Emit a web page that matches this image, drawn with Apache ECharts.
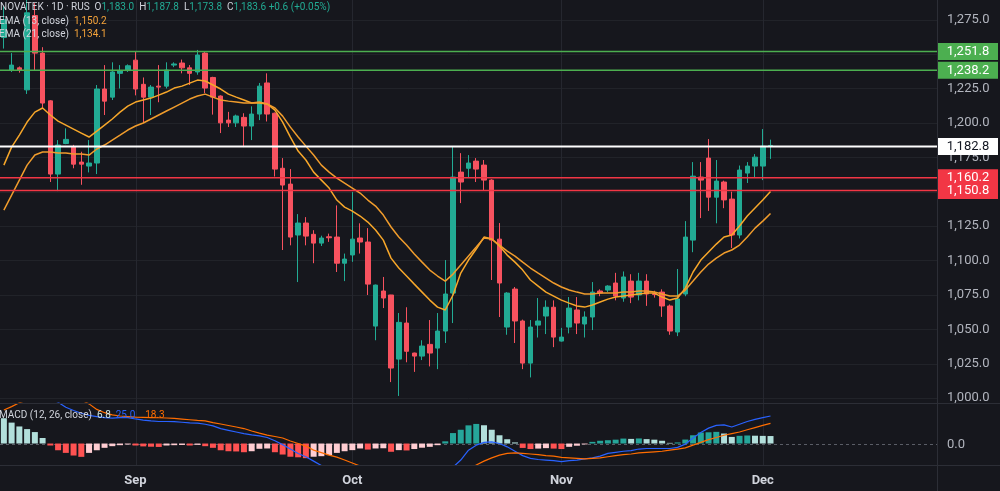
<!DOCTYPE html>
<html><head><meta charset="utf-8">
<script src="https://cdn.jsdelivr.net/npm/echarts@6/dist/echarts.min.js"></script>
<style>html,body{margin:0;padding:0;background:#16171d;}#c{width:1000px;height:491px;}</style>
</head><body><div id="c"></div>
<script>
// ---------------- DATA ----------------
const symbolTitle = 'NOVATEK · 1D · RUS';
const opens  = [1262,1238.4,1240,1224,1278,1250.7,1216,1162.8,1185,1182.4,
  1171.5,1168.6,1170.8,1224.6,1218.7,1236,1238,1245.6,1228,1218.7,
  1226.7,1226.7,1242,1243.5,1240,1237,1250.7,1233,1219.5,1202,
  1200,1204,1197.7,1206.4,1229,1207,1167,1155.5,1118.5,1127.2,
  1119,1112.6,1117.2,1117,1098,1104,1116.3,1113.4,1052.3,1077.8,
  1074.9,1028.3,1054.5,1032.7,1030.5,1039,1036.3,1048.7,1076.3,1164.2,
  1167,1172.2,1169.3,1158.4,1115.5,1051.6,1079.2,1056,1025.4,1053,
  1059.6,1066,1041.4,1051.6,1064,1053.8,1058.9,1077.8,1078.5,1083.6,
  1072.7,1085,1074.9,1085,1076,1077,1066.9,1048,1075.6,1114.8,
  1160.6,1174.4,1146,1157,1144.6,1118.5,1163.5,1168.6,1168.6,1183.0];
const closes = [1275,1242,1238.4,1280,1250.7,1214.4,1162.8,1183.9,1188,1170,
  1170,1170.8,1224.6,1215.8,1237,1238,1241.5,1224.6,1218.7,1226,
  1226,1238.4,1242.8,1240,1236,1249.3,1225.3,1218.7,1200,1200,
  1205,1197.7,1206.4,1226.7,1206.4,1166.4,1154.8,1117,1127.2,1117.7,
  1112.6,1116.3,1116.5,1098,1101,1115.5,1113.4,1082.8,1082.1,1072.7,
  1021.8,1055,1034,1030.5,1037.8,1032.7,1048.7,1075.6,1160.6,1157,
  1170.8,1166.4,1158.4,1114.8,1083.6,1076.3,1056,1025.4,1051.6,1056,
  1066,1044.3,1044.3,1065.4,1054.5,1058.9,1077,1076.3,1081.4,1074.1,
  1088,1073.4,1085,1075.6,1075.2,1066.9,1048.7,1072,1117,1161.3,
  1158.4,1146,1157.7,1144,1118.5,1165.7,1168.6,1175.1,1183.0,1183.6];
const lows   = [1254,1237,1236.5,1221,1238,1210.8,1157,1150.4,1184.5,1167,
  1155,1164,1162.8,1205.7,1216.6,1225,1237,1220,1200,1205.7,
  1215,1225,1240.5,1236,1227.5,1235,1221.6,1206,1192.6,1197,
  1197,1182.4,1187.5,1202,1201,1161,1107.6,1111,1084.3,1111,
  1098,1110.5,1113.5,1091.6,1085,1099,1105,1074.9,1042,1065.4,
  1011.6,1001.5,1026,1019,1027.6,1023,1021,1040,1054.5,1141.7,
  1160.6,1157,1151,1085.8,1058.9,1046,1040,1021,1015,1044,
  1046.5,1037,1041,1047,1046.5,1044,1049.4,1074,1077,1071,
  1070,1069,1071,1067,1073,1059,1046,1045,1074,1106,
  1130.8,1136,1127,1138,1109,1116,1156.3,1160,1158.4,1173.8];
const highs  = [1285,1250.7,1241,1290,1287,1255,1216.5,1187.5,1196,1184,
  1179,1187.5,1227.5,1242,1244,1242,1242.5,1251.5,1233,1227.5,
  1242,1244,1244,1246,1242,1253,1252,1233.5,1220,1208,
  1206,1207,1212,1229,1236,1207.5,1174.4,1166.4,1133.7,1131.5,
  1122,1118,1119.5,1140,1105,1149.7,1127,1123.5,1082.5,1088,
  1075,1061.8,1066,1033,1042,1056.7,1061.8,1100.3,1182.4,1178,
  1176.6,1174.4,1173,1159,1127.2,1077,1080.7,1057,1056.7,1072.7,
  1071,1071,1051,1073.4,1073.4,1063,1084.3,1079,1082,1091,
  1092,1090,1091,1090,1078,1079,1068,1093.8,1128.6,1171.5,
  1171.5,1188.2,1173,1158,1150,1169,1171.5,1177.3,1195.5,1187.8];
const ema13 = [1169.3,1182.4,1191.1,1200.6,1207.8,1210.8,1205.7,1201.3,1198.4,1195.5,
  1192.6,1189.7,1194.0,1198.4,1202.8,1207.8,1212.2,1215.1,1216.6,1218.0,
  1220.2,1222.4,1225.3,1226.7,1228.9,1231.1,1230.4,1227.5,1224.6,1220.9,
  1218.7,1216.6,1214.4,1214.4,1213.7,1209.3,1200.6,1189.7,1179.5,1173.0,
  1164.2,1158.4,1152.6,1143.9,1138.8,1135.9,1132.3,1127.9,1122.1,1114.8,
  1101.7,1094.5,1088.7,1082.8,1077.0,1071.2,1066.1,1064.0,1074.9,1090.8,
  1100.3,1108.3,1117.0,1115.6,1110.5,1103.9,1098.8,1093.0,1085.8,1081.4,
  1077.0,1074.1,1071.2,1069.0,1066.9,1066.1,1067.6,1069.8,1071.9,1073.4,
  1074.1,1074.9,1075.6,1076.3,1076.3,1073.4,1071.2,1072.7,1079.9,1091.6,
  1100.3,1106.1,1111.9,1117.0,1118.5,1125.0,1132.3,1138.1,1143.9,1150.2];
const ema21 = [1136.6,1147.5,1158.4,1169.3,1176.6,1178.8,1178.8,1178.1,1178.1,1177.3,
  1177.3,1176.6,1181.0,1183.9,1187.5,1191.1,1194.8,1197.7,1199.9,1202.8,
  1205.7,1208.6,1211.5,1214.4,1217.3,1219.5,1220.9,1218.7,1216.6,1215.8,
  1215.1,1214.4,1214.4,1215.1,1213.7,1210.8,1204.9,1196.9,1189.7,1183.1,
  1176.6,1169.3,1164.2,1159.9,1156.2,1152.6,1149.0,1143.9,1139.5,1133.0,
  1124.3,1117.0,1111.2,1104.7,1098.8,1093.0,1088.7,1085.0,1090.1,1096.7,
  1103.2,1109.7,1116.3,1115.6,1111.2,1106.8,1103.2,1098.8,1094.5,1090.8,
  1087.2,1083.6,1080.7,1078.5,1077.0,1075.6,1075.6,1076.3,1076.3,1076.3,
  1077.0,1077.0,1077.8,1077.8,1077.0,1075.6,1074.1,1074.1,1078.5,1085.0,
  1091.6,1097.4,1101.7,1105.4,1107.6,1111.2,1117.0,1123.5,1128.6,1134.1];
const macdHist = [23,19,15.5,13.1,10.4,5,-1.8,-6.1,-8.5,-10.9,
  -12.1,-8.5,-6.1,-3.9,-2.4,-1.5,-0.9,-1.8,-2.6,-2.9,
  -3.1,-1.8,-1.5,-1.3,-1.8,-1.2,-2.4,-3.9,-6.1,-7.0,
  -7.2,-7.9,-7.0,-4.8,-4.5,-7.9,-10,-12,-12.5,-13.3,
  -12,-11.5,-10.5,-8.5,-7,-6,-4.5,-5.5,-4.5,-4.3,
  -7.5,-6,-6.3,-5,-3.8,-3,-1.5,2,9.5,12.5,
  16.5,17.8,16.6,12.5,7.5,3.9,1,-4,-5,-4.6,
  -4.2,-4.6,-5,-3,-2,-0.8,1.5,2.5,3,3.5,
  4.5,4.2,4.6,4.0,3.5,2.5,0.6,1.0,3.6,7.5,
  10,10.2,10.6,9.1,6,7.0,7.3,7.1,6.95,6.8];
const macdLine = [53,52.5,52,52,51.5,47,41,37.5,33,30,
  27.5,25.5,24.5,23.5,23,23.5,23.5,22.3,21.3,20.6,
  20,20,19.8,19.3,18.8,18.5,17.5,16,13.5,12,
  10.5,9,7.8,7,5.5,2.5,-1,-5,-9,-12,
  -16,-20,-21,-21,-22,-23.7,-25,-28.5,-29.5,-31.3,
  -36.5,-36.5,-38.3,-38,-37.8,-37.5,-36,-31.5,-21.5,-15,
  -6,-1.5,1,1.5,0,-3,-7,-11,-13.5,-14.5,
  -15,-15.5,-16.5,-15.5,-15,-14,-13,-11.5,-9,-8,
  -7,-6.5,-5,-4.5,-4.5,-4.5,-4.5,-3.5,-0.5,5,
  10,14,16.5,17,15,17.5,20,22,23.5,25];
const macdSignal = [30.5,33.5,37,39.5,41.5,42.5,43,43.5,42.5,41.5,
  39.5,36,31,28,26,25,24.5,24,23.8,23.6,
  23.4,23.2,22.8,22.2,21.6,21,20.5,19,17.7,16.4,
  15,13.6,11.4,9.5,7.7,6.4,5,2.3,0,-2.3,
  -6,-8.2,-10.5,-12.3,-15,-17.7,-20.5,-23,-25,-27,
  -29,-30.5,-32,-33,-34,-34.5,-34.5,-33.5,-31,-27.5,
  -22,-19.5,-16,-13,-10.5,-9,-8.5,-9,-9.5,-10,
  -11,-11.5,-12.5,-13,-13.5,-14,-13.5,-13,-12,-11,
  -10,-9.5,-8.5,-8,-7.5,-7,-6,-5,-4,-1.5,
  1,3.5,5.5,7.5,9,10.5,12.5,14.5,16.5,18.3];
const priceTicks = [1000,1025,1050,1075,1100,1125,1150,1175,1200,1225,1250,1275];
const macdTicks = [0];
const levels = [1251.8,1238.2,1182.8,1160.2,1150.8];
const monthIdx = [17,45,72,98];
const monthNames = ['Sep','Oct','Nov','Dec'];

// ---------------- LAYOUT / STYLE ----------------
const FUTURE_SLOTS = 21;
const levelStyle = [
  {line:'#4caf50', bg:'#4caf50', fg:'#ffffff', w:1.5},
  {line:'#4caf50', bg:'#4caf50', fg:'#ffffff', w:1.5},
  {line:'#ffffff', bg:'#ffffff', fg:'#131722', w:2},
  {line:'#f23645', bg:'#f23645', fg:'#ffffff', w:1.5},
  {line:'#f23645', bg:'#f23645', fg:'#ffffff', w:1.5}
];
const UP = '#22ab94', DOWN = '#f7525f';
const FONT = 'Roboto, "Noto Sans", sans-serif';
const PANE_RIGHT = 937, PRICE_H = 403, MACD_TOP = 403, MACD_H = 62;

const n = opens.length;
const categories = [];
for (let i = 0; i < n + FUTURE_SLOTS; i++) categories.push(String(i));
const candles = opens.map((o, i) => [o, closes[i], lows[i], highs[i]]);
const histData = macdHist.map((v, i) => {
  const prev = i > 0 ? macdHist[i - 1] : v + 1;
  let c;
  if (v >= 0) c = v >= prev ? '#26a69a' : '#b2dfdb';
  else c = v < prev ? '#ff5252' : '#ffcdd2';
  return {value: v, itemStyle: {color: c}};
});
const fmt = v => v.toLocaleString('en-US', {minimumFractionDigits: 1, maximumFractionDigits: 1});

const chart = echarts.init(document.getElementById('c'), null, {renderer: 'canvas'});
const option = {
  animation: false,
  backgroundColor: '#16171d',
  grid: [
    {left: 0, top: 0, width: PANE_RIGHT, height: PRICE_H},
    {left: 0, top: MACD_TOP, width: PANE_RIGHT, height: MACD_H}
  ],
  xAxis: [
    {type: 'category', gridIndex: 0, data: categories, boundaryGap: true,
     axisLine: {show: false}, axisTick: {show: false}, axisLabel: {show: false}, splitLine: {show: false}},
    {type: 'category', gridIndex: 1, data: categories, boundaryGap: true,
     axisLine: {show: false}, axisTick: {show: false}, splitLine: {show: false},
     axisLabel: {
       color: '#d1d4dc', fontSize: 13, fontWeight: 'bold', fontFamily: FONT, margin: 9,
       interval: (idx) => monthIdx.indexOf(idx) >= 0,
       formatter: (val, idx) => { const k = monthIdx.indexOf(idx); return k >= 0 ? monthNames[k] : ''; }
     }}
  ],
  yAxis: [
    {type: 'value', gridIndex: 0, position: 'right', min: 996.4, max: 1289.3,
     axisLine: {show: false}, axisTick: {show: false}, axisLabel: {show: false}, splitLine: {show: false}},
    {type: 'value', gridIndex: 1, position: 'right', min: -19.5, max: 36.8,
     axisLine: {show: false}, axisTick: {show: false}, axisLabel: {show: false}, splitLine: {show: false}}
  ],
  series: [
    {type: 'candlestick', xAxisIndex: 0, yAxisIndex: 0, data: candles, barWidth: 5,
     itemStyle: {color: UP, color0: DOWN, borderColor: UP, borderColor0: DOWN, borderWidth: 1}},
    {type: 'line', name: 'EMA13', xAxisIndex: 0, yAxisIndex: 0, data: ema13, symbol: 'none',
     lineStyle: {color: '#f7a72a', width: 1.5}},
    {type: 'line', name: 'EMA21', xAxisIndex: 0, yAxisIndex: 0, data: ema21, symbol: 'none',
     lineStyle: {color: '#f09c2c', width: 1.5}},
    {type: 'bar', xAxisIndex: 1, yAxisIndex: 1, data: histData, barWidth: 6},
    {type: 'line', xAxisIndex: 1, yAxisIndex: 1, data: macdLine, symbol: 'none',
     lineStyle: {color: '#2962ff', width: 1.2}},
    {type: 'line', xAxisIndex: 1, yAxisIndex: 1, data: macdSignal, symbol: 'none',
     lineStyle: {color: '#ff6d00', width: 1.2}}
  ]
};
chart.setOption(option);

// ---------------- OVERLAY (via library scales) ----------------
const G = [];
const yP = v => chart.convertToPixel({yAxisIndex: 0}, v);
const yM = v => chart.convertToPixel({yAxisIndex: 1}, v);
const xC = i => chart.convertToPixel({xAxisIndex: 0}, i);
const ln = (x1, y1, x2, y2, stroke, w, z, dash) => ({type: 'line', silent: true, z: z,
  shape: {x1, y1, x2, y2}, style: {stroke, lineWidth: w, lineDash: dash || null}});
const txt = (x, y, text, fill, size, z, align, weight) => ({type: 'text', silent: true, z: z, x: x, y: y,
  style: {text, fill, fontSize: size, fontFamily: FONT, fontWeight: weight || 'normal',
    align: align || 'left', textAlign: align || 'left', verticalAlign: 'middle', textVerticalAlign: 'middle'}});

priceTicks.forEach(v => {
  const y = Math.round(yP(v)) + 0.5;
  G.push(ln(0, y, PANE_RIGHT, y, '#212329', 1, 0));
});
monthIdx.forEach(i => {
  const x = Math.round(xC(i)) + 0.5;
  G.push(ln(x, 0, x, MACD_TOP + MACD_H, '#25272f', 1, 0));
});
macdTicks.forEach(v => {
  const y = Math.round(yM(v)) + 0.5;
  G.push(ln(0, y, PANE_RIGHT, y, '#5a5d66', 1, 0, [3, 3]));
  G.push(txt(947, y, fmt(v), '#b2b5be', 13, 20));
});
priceTicks.forEach(v => G.push(txt(947, yP(v), fmt(v), '#b2b5be', 13, 20)));
// separators
G.push(ln(0, MACD_TOP + 0.5, 1000, MACD_TOP + 0.5, '#2c2e36', 1, 20));
G.push(ln(0, MACD_TOP + MACD_H + 0.5, 1000, MACD_TOP + MACD_H + 0.5, '#2c2e36', 1, 20));
G.push(ln(PANE_RIGHT + 0.5, 0, PANE_RIGHT + 0.5, 491, '#2c2e36', 1, 20));
// levels
levels.forEach((v, k) => {
  const s = levelStyle[k];
  const y = yP(v);
  G.push(ln(0, y, PANE_RIGHT, y, s.line, s.w, 15));
  G.push({type: 'rect', silent: true, z: 30, shape: {x: PANE_RIGHT + 1, y: y - 8.5, width: 60, height: 17}, style: {fill: s.bg}});
  G.push(txt(PANE_RIGHT + 31, y, fmt(v), s.fg, 13, 31, 'center'));
});
// legends
const last = n - 1;
const chg = closes[last] - closes[last - 1];
const chgPct = chg / closes[last - 1] * 100;
const sgn = x => (x >= 0 ? '+' : '');
const rich = {
  t: {fill: '#d1d4dc', fontSize: 10, fontFamily: FONT},
  v: {fill: UP, fontSize: 10, fontFamily: FONT},
  o: {fill: '#f5a33a', fontSize: 10, fontFamily: FONT},
  h: {fill: '#cfe8e5', fontSize: 10, fontFamily: FONT},
  b: {fill: '#2962ff', fontSize: 10, fontFamily: FONT},
  s: {fill: '#ff6d00', fontSize: 10, fontFamily: FONT}
};
const richTxt = (x, y, text) => ({type: 'text', silent: true, z: 40, x, y,
  style: {text, rich, fontSize: 10, fontFamily: FONT, fill: '#d1d4dc', verticalAlign: 'middle', textVerticalAlign: 'middle'}});
G.push(richTxt(0, 7, '{t|' + symbolTitle + '}  {t|O}{v|' + fmt(opens[last]) + '}  {t|H}{v|' + fmt(highs[last]) +
  '}  {t|L}{v|' + fmt(lows[last]) + '}  {t|C}{v|' + fmt(closes[last]) + '} {v|' + sgn(chg) + fmt(chg) + ' (' + sgn(chgPct) + chgPct.toFixed(2) + '%)}'));
G.push(richTxt(-1, 21, '{t|EMA (13, close)}  {o|' + fmt(ema13[last]) + '}'));
G.push(richTxt(-1, 34, '{t|EMA (21, close)}  {o|' + fmt(ema21[last]) + '}'));
G.push(richTxt(-1, 415, '{t|MACD (12, 26, close)}  {h|' + fmt(macdHist[last]) + '}  {b|' + fmt(macdLine[last]) + '}    {s|' + fmt(macdSignal[last]) + '}'));

chart.setOption({graphic: {elements: G}});
</script></body></html>
